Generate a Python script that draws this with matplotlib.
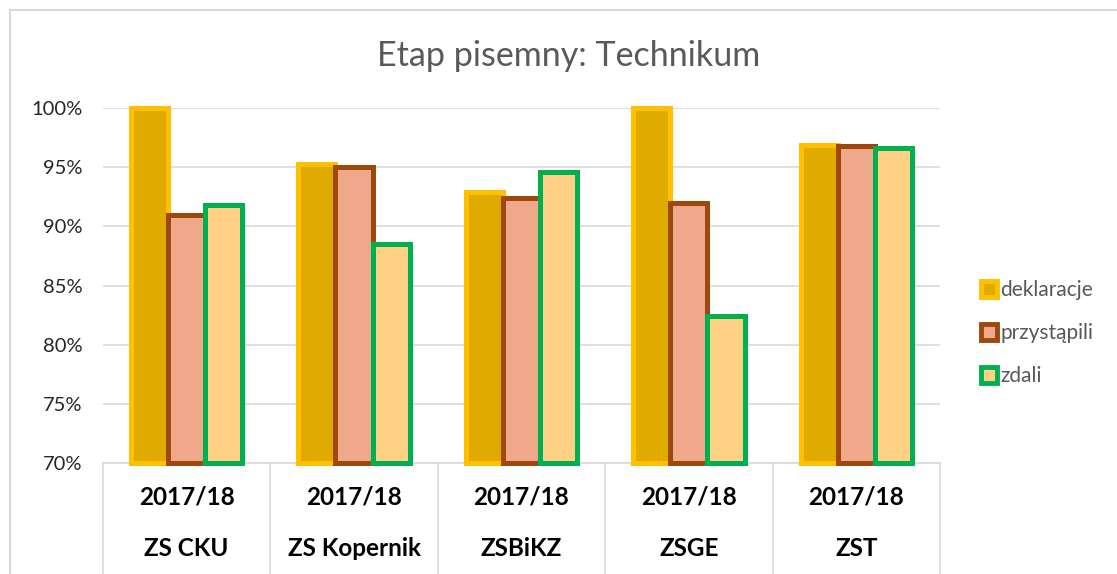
import matplotlib.pyplot as plt
from matplotlib.lines import Line2D
import numpy as np

plt.rcParams['font.family'] = ['Lato', 'DejaVu Sans']

# dane
szkoly = ['ZS CKU', 'ZS Kopernik', 'ZSBiKZ', 'ZSGE', 'ZST']
rok = ['2017/18'] * 5
deklaracje = [100.0, 95.3, 92.9, 100.0, 96.9]
przystapili = [91.0, 95.0, 92.4, 92.0, 96.8]
zdali = [91.8, 88.5, 94.6, 82.4, 96.6]

serie = ['deklaracje', 'przystąpili', 'zdali']
wypelnienie = ['#E1AA00', '#F0A88A', '#FFD185']
obrys = ['#FFC000', '#9E480E', '#00B050']

fig = plt.figure(figsize=(11.17, 5.74), dpi=100)
ax = fig.add_axes([0.0922, 0.1934, 0.7493, 0.6184])

x = np.arange(len(szkoly))
szer = 0.222
dol = 70
for j, wart in enumerate([deklaracje, przystapili, zdali]):
    h = np.array(wart) - dol
    ax.bar(x + (j - 1) * szer, h, szer, bottom=dol, color=wypelnienie[j],
           edgecolor=obrys[j], linewidth=3.6, zorder=3, clip_on=False)

ax.set_xlim(-0.5, len(szkoly) - 0.5)
ax.set_ylim(70, 100)
ax.set_yticks(range(70, 101, 5))
ax.set_yticklabels([f'{v}%' for v in range(70, 101, 5)], fontsize=14.5, color='#262626')
ax.tick_params(axis='y', length=0, pad=15)
ax.set_xticks([])
ax.yaxis.grid(True, color='#D9D9D9', linewidth=1.2, zorder=0)
for s in ['top', 'right', 'left']:
    ax.spines[s].set_visible(False)
ax.spines['bottom'].set_color('#D9D9D9')
ax.spines['bottom'].set_linewidth(1.2)

# oś kategorii dwupoziomowa
trans = ax.get_xaxis_transform()
for i in range(len(szkoly)):
    ax.text(x[i], -0.096, rok[i], transform=trans, ha='center', va='center',
            fontsize=17.5, fontweight='bold', color='black')
    ax.text(x[i], -0.242, szkoly[i], transform=trans, ha='center', va='center',
            fontsize=17.5, fontweight='bold', color='black')
for b in np.arange(-0.5, len(szkoly), 1):
    ax.plot([b, b], [0, -0.32], transform=trans, color='#D9D9D9',
            linewidth=1.2, clip_on=False)

fig.text(569 / 1117, 1 - 56 / 574, 'Etap pisemny: Technikum', fontsize=24.5,
         color='#595959', ha='center', va='center')

uchwyty = [Line2D([], [], linestyle='none', marker='s', markersize=12,
                  markerfacecolor=wypelnienie[j], markeredgecolor=obrys[j],
                  markeredgewidth=3.5) for j in range(3)]
fig.legend(uchwyty, serie, loc='center left', bbox_to_anchor=(0.862, 0.42),
           frameon=False, fontsize=15, labelcolor='#595959',
           handlelength=0.75, handletextpad=0.15, labelspacing=1.1)

# ramka wykresu
fig.add_artist(Line2D([10 / 1117, 10 / 1117], [1 - 10 / 574, 0],
                      transform=fig.transFigure, color='#D9D9D9', linewidth=1.5))
fig.add_artist(Line2D([10 / 1117, 1], [1 - 10 / 574, 1 - 10 / 574],
                      transform=fig.transFigure, color='#D9D9D9', linewidth=1.5))

fig.savefig('out.png', dpi=100)
